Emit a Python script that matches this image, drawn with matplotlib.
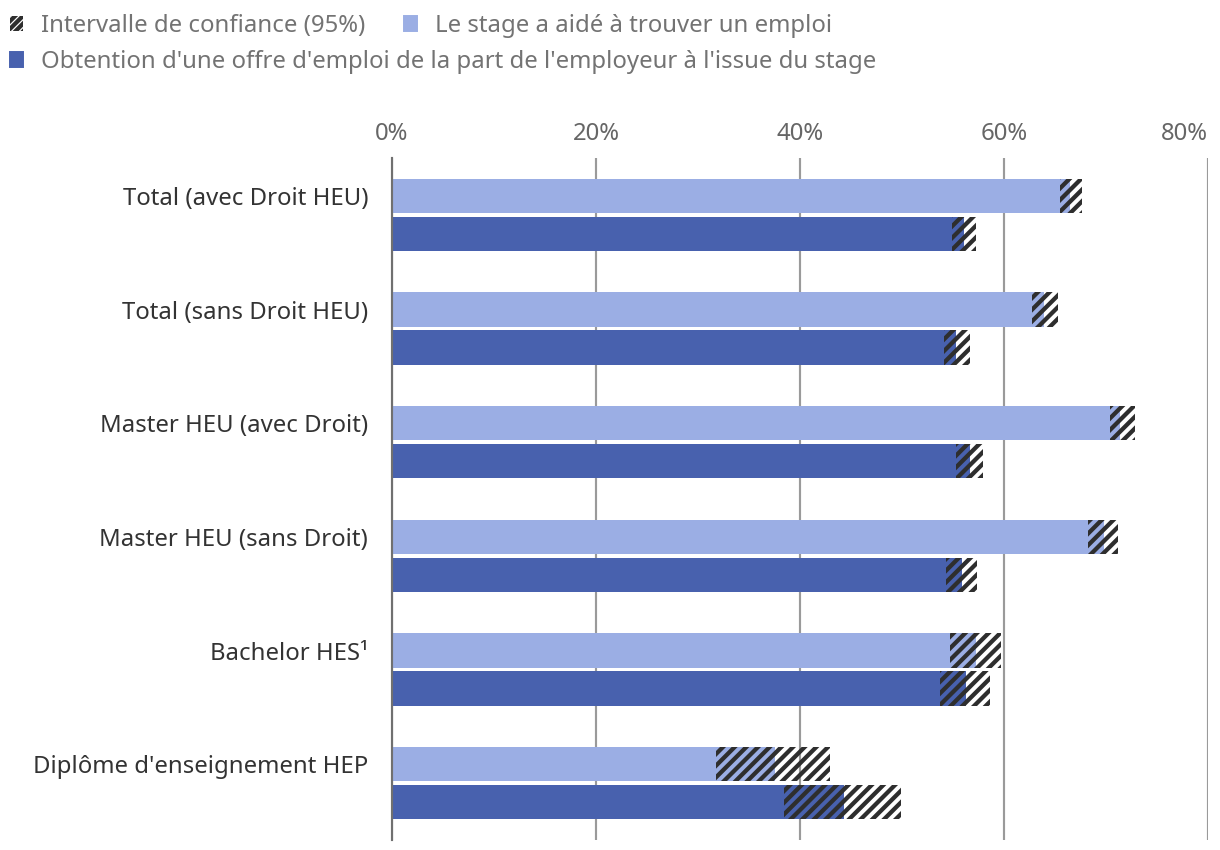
import numpy as np
import matplotlib
matplotlib.use("Agg")
import matplotlib.pyplot as plt
from matplotlib.patches import Patch

categories = ["Total (avec Droit HEU)", "Total (sans Droit HEU)", "Master HEU (avec Droit)",
              "Master HEU (sans Droit)", "Bachelor HES¹", "Diplôme d'enseignement HEP"]
aide = [66.5, 63.9, 71.4, 69.8, 57.3, 37.5]
aide_lo = [65.5, 62.7, 70.4, 68.2, 54.7, 31.8]
aide_hi = [67.6, 65.3, 72.8, 71.2, 59.7, 42.9]
offre = [56.1, 55.3, 56.7, 55.9, 56.3, 44.3]
offre_lo = [54.9, 54.1, 55.3, 54.3, 53.7, 38.4]
offre_hi = [57.3, 56.7, 57.9, 57.4, 58.6, 49.9]
ticks = [0, 20, 40, 60, 80]

LIGHT = "#9BAEE4"
DARK = "#4861AE"
HATCH = "#2E2E2E"
FS = 12.3

plt.rcParams['font.family'] = ['Noto Sans', 'DejaVu Sans']
plt.rcParams['hatch.linewidth'] = 2.2

DPI = 140
fig = plt.figure(figsize=(1220 / DPI, 850 / DPI), dpi=DPI)
ax = fig.add_axes([392 / 1220, 10 / 850, (1208 - 392) / 1220, (840 - 158) / 850])

y = np.arange(len(categories))
h = 0.30
off = 0.167
yl = y - off
yd = y + off

ax.barh(yl, aide, height=h, color=LIGHT, zorder=2)
ax.barh(yd, offre, height=h, color=DARK, zorder=2)
ax.barh(yl, np.array(aide_hi) - np.array(aide_lo), left=aide_lo, height=h,
        fill=False, hatch='////', edgecolor=HATCH, linewidth=0, zorder=3)
ax.barh(yd, np.array(offre_hi) - np.array(offre_lo), left=offre_lo, height=h,
        fill=False, hatch='////', edgecolor=HATCH, linewidth=0, zorder=3)

ax.set_xlim(0, 80)
ax.set_ylim(len(categories) - 0.5, -0.5)
ax.set_xticks(ticks)
ax.set_xticklabels([f"{t}%" for t in ticks], color="#666666", fontsize=FS)
ax.xaxis.tick_top()
ax.xaxis.get_major_ticks()[-1].label2.set_horizontalalignment('right')
ax.tick_params(axis='x', length=0, pad=6)
ax.set_yticks(yl)
ax.set_yticklabels(categories, color="#333333", fontsize=FS)
ax.tick_params(axis='y', length=0, pad=12.3)
ax.grid(axis='x', color="#9A9A9A", linewidth=1.1, zorder=0)
ax.set_axisbelow(True)
for s in ['top', 'right', 'bottom']:
    ax.spines[s].set_visible(False)
ax.spines['left'].set_color("#707070")
ax.spines['left'].set_linewidth(1.1)
ax.spines['left'].set_zorder(4)

h1 = Patch(facecolor='white', edgecolor=HATCH, hatch='//////', linewidth=0)
h2 = Patch(facecolor=LIGHT, edgecolor=LIGHT)
h3 = Patch(facecolor=DARK, edgecolor=DARK)
kw = dict(frameon=False, fontsize=FS, handlelength=0.55, handleheight=0.55,
          handletextpad=0.75, labelcolor="#737373", borderaxespad=0, borderpad=0)
leg1 = fig.legend([h1, h2], ["Intervalle de confiance (95%)", "Le stage a aidé à trouver un emploi"],
                  loc='center left', bbox_to_anchor=(10 / 1220, 1 - 26 / 850), ncol=2,
                  columnspacing=1.6, **kw)
leg2 = fig.legend([h3], ["Obtention d'une offre d'emploi de la part de l'employeur à l'issue du stage"],
                  loc='center left', bbox_to_anchor=(10 / 1220, 1 - 62 / 850), **kw)

fig.savefig("out.png", dpi=DPI)
